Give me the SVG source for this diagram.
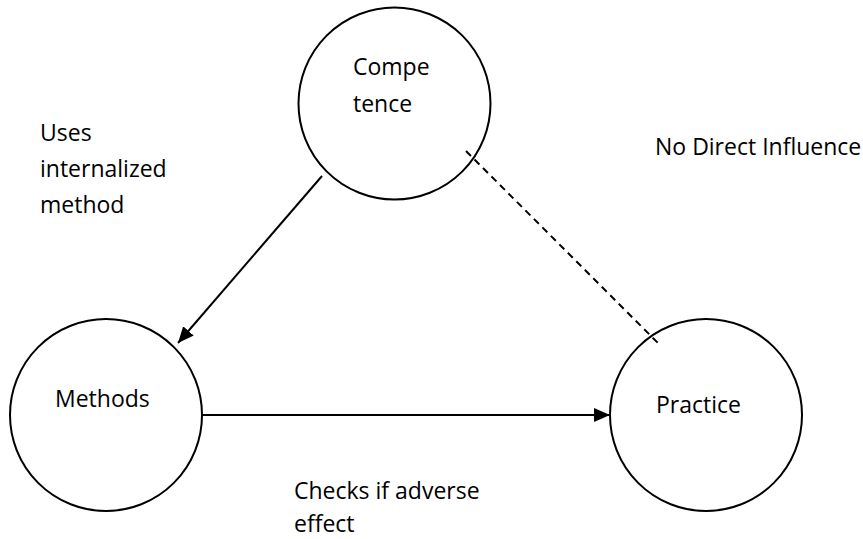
<svg xmlns="http://www.w3.org/2000/svg" width="863" height="539" viewBox="0 0 863 539">
<style>
.node{fill:none;stroke:#000;stroke-width:2}
.lbl{font-family:"Open Sans","Liberation Sans",sans-serif;font-size:23px;fill:#000}
.edge{stroke:#000;stroke-width:2;fill:none}
.dash{stroke-dasharray:7 5}
</style>
<defs>
<marker id="arr" markerUnits="userSpaceOnUse" markerWidth="17" markerHeight="15" refX="16" refY="7" orient="auto">
<path d="M0,0 L16,7 L0,14 z" fill="#000"/>
</marker>
</defs>
<rect width="863" height="539" fill="#fff"/>
<g id="connectors">
<line class="edge" x1="322" y1="176" x2="178" y2="343" marker-end="url(#arr)"/>
<line class="edge" x1="202" y1="415" x2="610" y2="415" marker-end="url(#arr)"/>
<line class="edge dash" x1="466" y1="151" x2="658" y2="343"/>
</g>
<g id="competence">
<circle class="node" cx="394.5" cy="103.5" r="96"/>
<text class="lbl" x="353" y="75">Compe</text>
<text class="lbl" x="353" y="112">tence</text>
</g>
<g id="methods">
<circle class="node" cx="106" cy="415" r="96"/>
<text class="lbl" x="55" y="407">Methods</text>
</g>
<g id="practice">
<circle class="node" cx="706" cy="415" r="96"/>
<text class="lbl" x="656" y="413">Practice</text>
</g>
<g id="labels">
<text class="lbl" x="40" y="141">Uses</text>
<text class="lbl" x="40" y="177">internalized</text>
<text class="lbl" x="40" y="213">method</text>
<text class="lbl" x="655" y="155">No Direct Influence</text>
<text class="lbl" x="294" y="499">Checks if adverse</text>
<text class="lbl" x="294" y="532">effect</text>
</g>
</svg>
